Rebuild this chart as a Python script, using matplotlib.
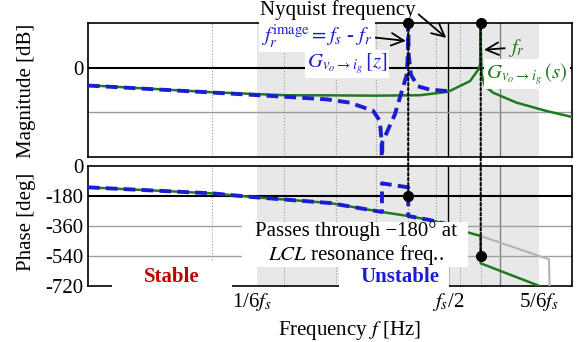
import matplotlib
matplotlib.use('Agg')
import matplotlib.pyplot as plt
from matplotlib.patches import Rectangle, ConnectionPatch
from matplotlib.ticker import NullLocator

plt.rcParams['font.family'] = ['Liberation Serif', 'DejaVu Serif']
plt.rcParams['mathtext.fontset'] = 'stix'
plt.rcParams['font.size'] = 15

# frequencies (Hz)
fs = 15000
fr = 9000
fr_image = fs - fr
shade_start = 2570
shade_end = 12500

# magnitude of G(s) [dB]
freq_mag_s = [1000, 2000, 3000, 3870, 5000, 6400, 7500, 8480, 8880, 8970, 8995, 9000,
              9005, 9050, 9220, 9660, 11000, 13000, 15000]
mag_s = [-11.8, -16.5, -18.5, -18.6, -18.8, -18.5, -16.2, -9, -1.3, 2, 15, 60,
         15, -5, -12.5, -16.9, -23.5, -29.1, -33.1]

# magnitude of G[z] [dB]
freq_mag_z = [1000, 2000, 3000, 3810, 4330, 4930, 5120, 5170, 5180, 5190, 5260, 5570,
              5950, 5990, 6000, 6010, 6090, 6330, 6760, 7500]
mag_z = [-12, -16.7, -19.5, -21.3, -23.5, -29, -35.8, -50, -90, -50, -46.7, -31.3,
         -4.7, 10, 60, 10, -4.7, -12.5, -14.7, -15.8]

# phase of G(s) [deg]
freq_ph_s = [1000, 2000, 2500, 3870, 5180, 6000, 6760, 7500, 8100, 8700, 9000, 9000, 12500, 15000]
ph_s = [-128, -164, -186, -222, -276, -300, -324, -350, -388, -410, -420, -584, -720, -795]

# phase of G(s) without the jump (grey)
freq_ph_gray = [9000, 13190, 13250]
ph_gray = [-420, -560, -800]

# phase of G[z] [deg]
freq_ph_z = [1000, 2000, 2500, 3870, 5180, 5180, 6000, 6000, 6760, 7500]
ph_z = [-128, -164, -186, -222, -276, -104, -128, -300, -324, -350]

grid_minor = [2000, 3000, 4000, 5000, 6000, 7000, 8000, 9000]
xtick_pos = [fs / 6, fs / 2, 5 * fs / 6]
xtick_lbl = ['1/6$f_s$', '$f_s$/2', '5/6$f_s$']

green = '#1f7a1f'
blue = '#1c1cd0'
red = '#c00000'

W, H = 584, 342
fig = plt.figure(figsize=(W / 100, H / 100), dpi=100)


def px(x0, y0, x1, y1):
    # pixel box (from top-left) -> figure fractions
    return [x0 / W, 1 - y1 / H, (x1 - x0) / W, (y1 - y0) / H]


ax1 = fig.add_axes(px(88, 23, 572, 157))
ax2 = fig.add_axes(px(88, 166, 572, 286))

for ax in (ax1, ax2):
    ax.set_xscale('log')
    ax.set_xlim(1000, 15000)
    ax.axvspan(shade_start, shade_end, color='#e8e8e8', lw=0, zorder=0)
    for g in grid_minor:
        ax.axvline(g, color='#9a9a9a', ls=':', lw=0.8, zorder=1)
    ax.axvline(10000, color='#808080', lw=1.0, zorder=1)
    ax.axvline(fs / 2, color='k', lw=1.0, zorder=1)
    ax.xaxis.set_minor_locator(NullLocator())
    ax.tick_params(length=0, labelsize=15)
    for s in ax.spines.values():
        s.set_linewidth(1.2)

# magnitude
ax1.set_ylim(-60, 30)
ax1.axhline(0, color='k', lw=1.5, zorder=2)
ax1.axhline(-30, color='#999999', lw=1.0, zorder=1)
ax1.plot(freq_mag_s, mag_s, color=green, lw=1.8, zorder=3)
ax1.plot(freq_mag_z, mag_z, color=blue, lw=2.8, dashes=(3, 1.6), zorder=4)
ax1.plot([fr_image, fr], [30, 30], 'o', color='k', ms=7, clip_on=False, zorder=6)
ax1.set_yticks([0])
ax1.set_yticklabels(['0'])
ax1.set_xticks([])

# phase
ax2.set_ylim(-720, 0)
ax2.axhline(-180, color='k', lw=1.5, zorder=2)
for g in (-360, -540):
    ax2.axhline(g, color='#a0a0a0', lw=1.0, zorder=1)
ax2.plot(freq_ph_gray, ph_gray, color='#b4b4b4', lw=1.5, zorder=3)
ax2.plot(freq_ph_s, ph_s, color=green, lw=1.8, zorder=3)
ax2.plot(freq_ph_z, ph_z, color=blue, lw=2.8, dashes=(3, 1.6), zorder=4)
ax2.plot([fr_image, fr], [-180, -540], 'o', color='k', ms=7, zorder=6)
ax2.set_yticks([0, -180, -360, -540, -720])
ax2.set_yticklabels(['0', '-180', '-360', '-540', '-720'])
ax2.set_xticks(xtick_pos)
ax2.set_xticklabels(xtick_lbl)

# dotted lines through both panels
for f, p in ((fr_image, -180), (fr, -540)):
    con = ConnectionPatch(xyA=(f, 30), coordsA=ax1.transData,
                          xyB=(f, p), coordsB=ax2.transData,
                          color='k', ls=(0, (1.2, 1.2)), lw=1.5, zorder=2)
    fig.add_artist(con)

white = dict(fc='white', ec='none', boxstyle='square,pad=0.1')
arrow = dict(arrowstyle='->,head_length=0.6,head_width=0.3', color='k', lw=1.3,
             shrinkA=0, shrinkB=0)

ax1.annotate('Nyquist frequency', xy=(7420, 20), xytext=(338, H - 10),
             textcoords='figure pixels', ha='center', va='center',
             arrowprops=dict(arrow, relpos=(1, 0.4)), annotation_clip=False, zorder=7)
ax1.annotate(r'$f_r^{\rm image}=f_s$ - $f_r$', xy=(5920, 18), xytext=(373, H - 36),
             textcoords='figure pixels', ha='right', va='center', color=blue,
             bbox=white, arrowprops=dict(arrow, relpos=(1, 0.45)),
             annotation_clip=False, zorder=7)
ax1.annotate(r'$f_r$', xy=(9170, 12), xytext=(516, H - 48),
             textcoords='figure pixels', ha='center', va='center', color=green,
             arrowprops=dict(arrow, relpos=(0, 0.5)), annotation_clip=False, zorder=7)

fig.text(347 / W, 1 - 64 / H, r'$G_{v_o\rightarrow i_g}\,[z]$', ha='center', va='center',
         color=blue, bbox=white)
fig.text(527 / W, 1 - 74 / H, r'$G_{v_o\rightarrow i_g}\,(s)$', ha='center', va='center',
         color=green, bbox=white)

# white boxes in the phase panel (they hide the spine under the labels)
for box in ((242, 222, 468, 267), (112, 262, 232, 288), (339, 262, 449, 288)):
    r = px(*box)
    fig.add_artist(Rectangle((r[0], r[1]), r[2], r[3], transform=fig.transFigure,
                             fc='white', ec='none', zorder=1))

fig.text(356 / W, 1 - 244 / H, 'Passes through \u2212180\u00b0 at\n$LCL$ resonance freq..',
         ha='center', va='center', ma='center', linespacing=1.1)
fig.text(172 / W, 1 - 277 / H, 'Stable', ha='center', va='center', color=red,
         fontweight='bold')
fig.text(400 / W, 1 - 277 / H, 'Unstable', ha='center', va='center', color=blue,
         fontweight='bold')

fig.text(27 / W, 1 - 91 / H, 'Magnitude [dB]', rotation=90, ha='center', va='center')
fig.text(27 / W, 1 - 222 / H, 'Phase [deg]', rotation=90, ha='center', va='center')
fig.text(350 / W, 1 - 330 / H, 'Frequency $f$ [Hz]', ha='center', va='center')

fig.savefig('out.png', dpi=100)
